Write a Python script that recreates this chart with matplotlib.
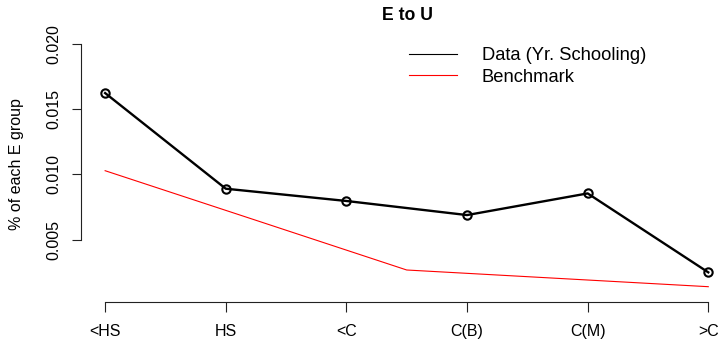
import matplotlib
matplotlib.use('Agg')
import matplotlib.pyplot as plt

categories = ['<HS', 'HS', '<C', 'C(B)', 'C(M)', '>C']
data_vals = [0.01624, 0.00891, 0.00797, 0.00689, 0.00855, 0.00250]
bench_x = [1, 2.25, 3.5, 4.75, 6]
bench_vals = [0.01029, 0.00649, 0.00268, 0.00204, 0.00140]
yticks = [0.005, 0.010, 0.015, 0.020]
ytick_labels = ['0.005', '0.010', '0.015', '0.020']

plt.rcParams['font.family'] = ['Liberation Sans', 'DejaVu Sans']

W, H = 719, 340
fig = plt.figure(figsize=(W / 100, H / 100), dpi=100)
left, right, bottom, top = 81, 732.4, 301.7, 34.1
ax = fig.add_axes([left / W, 1 - bottom / H, (right - left) / W, (bottom - top) / H])

xpos = list(range(1, len(categories) + 1))
ax.plot(xpos, data_vals, color='black', lw=1.7, marker='o', mfc='none',
        mec='black', ms=6, mew=1.5, label='Data (Yr. Schooling)')
ax.plot(bench_x, bench_vals, color='red', lw=0.8, label='Benchmark')

ax.set_xlim(0.8, 6.2)
ax.set_ylim(0.00025, 0.02076)

for s in ['top', 'right']:
    ax.spines[s].set_visible(False)
ax.spines['left'].set_bounds(0.005, 0.020)
ax.spines['bottom'].set_bounds(1, 6)
for s in ['left', 'bottom']:
    ax.spines[s].set_linewidth(0.8)
    ax.spines[s].set_color('#222222')

ax.set_xticks(xpos, categories)
ax.set_yticks(yticks, ytick_labels)
ax.tick_params(axis='x', length=7, width=0.8, pad=9, labelsize=11.5, color='#222222')
ax.tick_params(axis='y', length=6.7, width=0.8, pad=7.5, labelsize=11.5, color='#222222')
for lab in ax.get_yticklabels():
    lab.set_rotation(90)
    lab.set_va('center')

ax.set_ylabel('% of each E group', fontsize=11.5, va='center')
ax.yaxis.set_label_coords((16.5 - left) / (right - left), (bottom - 164) / (bottom - top))

fig.text(407 / W, 1 - 15 / H, 'E to U', fontsize=12.7, fontweight='bold',
         ha='center', va='center')

leg = ax.legend(loc='upper left', bbox_to_anchor=(409 / W, 1 - 47.5 / H),
                bbox_transform=fig.transFigure, frameon=False, fontsize=13.2,
                handlelength=2.64, handletextpad=1.33, labelspacing=0.22,
                borderpad=0, borderaxespad=0)
for h in leg.get_lines():
    h.set_marker('')
    h.set_linewidth(0.8)

fig.savefig('out.png', dpi=100)
